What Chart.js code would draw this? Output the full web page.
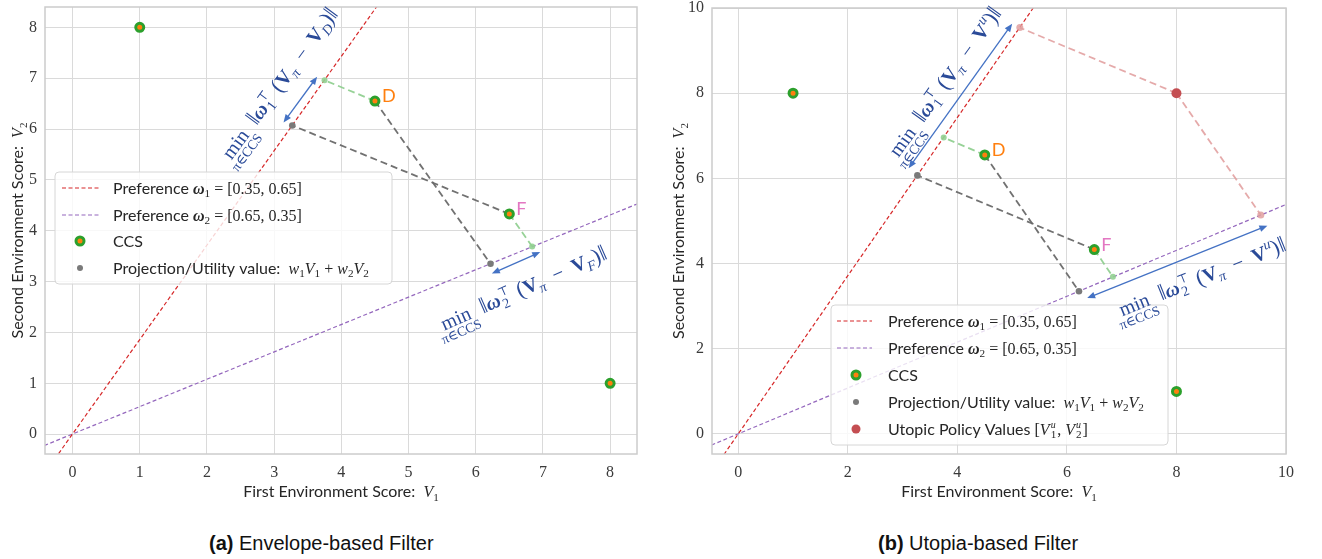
<!DOCTYPE html>
<html>
<head>
<meta charset="utf-8">
<script src="https://cdn.jsdelivr.net/npm/chart.js@4.4.1/dist/chart.umd.min.js"></script>
<style>
body{margin:0;background:#fff;width:1322px;height:559px;overflow:hidden;position:relative}
.panel{position:absolute;top:0;width:661px;height:510px}
.cap{position:absolute;top:531px;font-family:"Liberation Sans",Arial,sans-serif;font-size:20px;line-height:24px;color:#111}
</style>
</head>
<body>
<div class="panel" style="left:0"><canvas id="envelope" width="661" height="510"></canvas></div>
<div class="panel" style="left:661px"><canvas id="utopia" width="661" height="510"></canvas></div>
<div class="cap" style="left:209px"><b>(a)</b> Envelope-based Filter</div>
<div class="cap" style="left:878px"><b>(b)</b> Utopia-based Filter</div>
<script>
const SERIF='"Liberation Serif","DejaVu Serif",serif';
const SANS='Lato,"Open Sans",sans-serif';
const ARROW='#4472c4', NOTE='#2a4a98', INK='#262626';

// axes
const envXTicks=[0,1,2,3,4,5,6,7,8];
const envYTicks=[0,1,2,3,4,5,6,7,8];
const envXRange=[-0.41,8.4], envYRange=[-0.39,8.4];
const utoXTicks=[0,2,4,6,8,10];
const utoYTicks=[0,2,4,6,8,10];
const utoXRange=[-0.48,10], utoYRange=[-0.47,10];

// CCS points (V1, V2)
const ccsV1=[1,4.5,6.5,8];
const ccsV2=[8,6.55,4.33,1];
const ccsNames=['','D','F',''];
const ccsNameColors=['','#ff7f0e','#e377c2',''];

// preference lines w1=[0.35,0.65], w2=[0.65,0.35] through the origin
const pref1V1=[-0.6,5.6], pref1V2=[-1.11,10.4];
const pref2V1=[-0.6,10.6], pref2V2=[-0.32,5.71];

// projection / utility values (gray): F on w1, D on w2
const utilV1=[3.27,6.22], utilV2=[6.07,3.35];
// other projections (light green): D on w1, F on w2
const projV1=[3.75,6.84], projV2=[6.96,3.69];
// links [ccs index, projection index]
const grayLinks=[[2,0],[1,1]];
const greenLinks=[[1,0],[2,1]];

// utopic policy value and its projections
const utopV1=[8], utopV2=[8];
const utopProjV1=[5.14,9.54], utopProjV2=[9.54,5.14];

// distance arrows [x1,y1,x2,y2]
const envArrows=[[3.14,6.13,3.64,7.03],[6.24,3.16,6.96,3.58]];
const utoArrows=[[3.11,6.24,5.0,9.63],[6.37,3.19,9.66,4.89]];
// annotation centres
const envNotes=[{at:[3.08,6.90],w:1,tail:'D'},{at:[6.71,2.87],w:2,tail:'F'}];
const utoNotes=[{at:[3.77,8.27],w:1,tail:'u'},{at:[8.47,3.69],w:2,tail:'u'}];

function pts(xs,ys){return xs.map((x,i)=>({x:x,y:ys[i]}));}

function fontOf(f,k,size){
  const s=(size*(k||1)).toFixed(1);
  if(f==='sans') return s+'px '+SANS;
  if(f==='i') return 'italic '+s+'px '+SERIF;
  if(f==='b') return 'bold '+s+'px '+SERIF;
  if(f==='bi') return 'italic bold '+s+'px '+SERIF;
  return s+'px '+SERIF;
}
function runWidth(ctx,parts,size){
  let w=0;
  for(const p of parts){
    if(p.under) continue;
    if(p.sup||p.sub){
      let m=0;
      if(p.sup){ctx.font=fontOf(p.sup.f,0.62,size);m=Math.max(m,ctx.measureText(p.sup.t).width);}
      if(p.sub){ctx.font=fontOf(p.sub.f,0.7,size);m=Math.max(m,ctx.measureText(p.sub.t).width);}
      w+=m+2;continue;
    }
    ctx.font=fontOf(p.f,p.k,size);w+=ctx.measureText(p.t).width;
  }
  return w;
}
function drawRun(ctx,parts,size,x,y){
  let cx=x,prevX=x,prevW=0;
  for(const p of parts){
    if(p.under){
      ctx.font=fontOf('r',0.68,size);
      const uw=ctx.measureText(p.under).width;
      ctx.fillText(p.under,prevX+prevW/2-uw/2,y+size*0.6);
      continue;
    }
    if(p.sup||p.sub){
      let m=0;
      if(p.sup){ctx.font=fontOf(p.sup.f,0.62,size);ctx.fillText(p.sup.t,cx+1,y-size*0.42);m=Math.max(m,ctx.measureText(p.sup.t).width);}
      if(p.sub){ctx.font=fontOf(p.sub.f,0.7,size);ctx.fillText(p.sub.t,cx+1,y+size*0.22);m=Math.max(m,ctx.measureText(p.sub.t).width);}
      cx+=m+2;continue;
    }
    ctx.font=fontOf(p.f,p.k,size);
    ctx.fillText(p.t,cx,y+(p.dy||0)*size);
    prevX=cx;prevW=ctx.measureText(p.t).width;cx+=prevW;
  }
}
const sub=(t)=>({t:t,f:'r',k:0.7,dy:0.22});

function noteParts(n,tail){
  const last=tail==='u'?{t:'u',f:'i',k:0.7,dy:-0.42}:{t:tail,f:'i',k:0.7,dy:0.22};
  return [{t:'min',f:'r'},{under:'π∈CCS'},{t:'  ‖',f:'r',k:1.15},{t:'ω',f:'bi'},
    {sup:{t:'⊤',f:'r'},sub:{t:String(n),f:'r'}},{t:' (',f:'r',k:1.1},{t:'V',f:'b'},
    {t:'π',f:'i',k:0.7,dy:0.22},{t:'  −  ',f:'r'},{t:'V',f:'b'},last,{t:')',f:'r',k:1.1},{t:'‖',f:'r',k:1.15}];
}
function prefLabel(n,vals){return [{t:'Preference ',f:'sans'},{t:'ω',f:'bi'},sub(String(n)),{t:' = ['+vals+']',f:'r'}];}
const utilLabel=[{t:'Projection/Utility value:  ',f:'sans'},{t:'w',f:'i'},sub('1'),{t:'V',f:'i'},sub('1'),
  {t:' + ',f:'r'},{t:'w',f:'i'},sub('2'),{t:'V',f:'i'},sub('2')];
const utopLabel=[{t:'Utopic Policy Values ',f:'sans'},{t:'[',f:'r'},{t:'V',f:'i'},{sup:{t:'u',f:'i'},sub:{t:'1',f:'r'}},
  {t:', ',f:'r'},{t:'V',f:'i'},{sup:{t:'u',f:'i'},sub:{t:'2',f:'r'}},{t:']',f:'r'}];

const baseLegend=[
  {kind:'line',color:'#d62728',parts:prefLabel(1,'0.35, 0.65')},
  {kind:'line',color:'#9467bd',parts:prefLabel(2,'0.65, 0.35')},
  {kind:'ccs',parts:[{t:'CCS',f:'sans'}]},
  {kind:'dot',color:'#7a7a7a',r:3,parts:utilLabel}
];

function arrowHead(ctx,x,y,ang){
  const L=8,W=3.3;
  ctx.beginPath();ctx.moveTo(x,y);
  ctx.lineTo(x-L*Math.cos(ang)+W*Math.sin(ang),y-L*Math.sin(ang)-W*Math.cos(ang));
  ctx.lineTo(x-L*Math.cos(ang)-W*Math.sin(ang),y-L*Math.sin(ang)+W*Math.cos(ang));
  ctx.closePath();ctx.fill();
}
function arrow(ctx,x1,y1,x2,y2){
  const ang=Math.atan2(y2-y1,x2-x1);
  ctx.strokeStyle=ARROW;ctx.fillStyle=ARROW;ctx.lineWidth=1.3;ctx.setLineDash([]);
  ctx.beginPath();ctx.moveTo(x1+6*Math.cos(ang),y1+6*Math.sin(ang));
  ctx.lineTo(x2-6*Math.cos(ang),y2-6*Math.sin(ang));ctx.stroke();
  arrowHead(ctx,x2,y2,ang);arrowHead(ctx,x1,y1,ang+Math.PI);
}
function ccsMarker(ctx,x,y){
  ctx.beginPath();ctx.arc(x,y,4,0,Math.PI*2);
  ctx.fillStyle='#ff7f0e';ctx.fill();ctx.lineWidth=3;ctx.strokeStyle='#2ca02c';ctx.stroke();
}
function drawLegend(ctx,lg){
  const [bx,by,bw,bh]=lg.box;
  ctx.setLineDash([]);
  ctx.beginPath();ctx.roundRect(bx,by,bw,bh,4);
  ctx.fillStyle='rgba(255,255,255,0.8)';ctx.fill();
  ctx.lineWidth=1;ctx.strokeStyle='#d6d6d6';ctx.stroke();
  lg.items.forEach((it,i)=>{
    const y=lg.rows[i];
    if(it.kind==='line'){
      ctx.strokeStyle=it.color;ctx.lineWidth=1.2;ctx.setLineDash([4,2.5]);
      ctx.beginPath();ctx.moveTo(lg.sampleX[0],y);ctx.lineTo(lg.sampleX[1],y);ctx.stroke();ctx.setLineDash([]);
    }else if(it.kind==='ccs'){ccsMarker(ctx,lg.markX,y);}
    else{ctx.beginPath();ctx.arc(lg.markX,y,it.r,0,Math.PI*2);ctx.fillStyle=it.color;ctx.fill();}
    ctx.fillStyle=INK;ctx.textBaseline='alphabetic';
    drawRun(ctx,it.parts,16,lg.textX,y+5.5);
  });
}

function makeOverlay(spec){
  return {
    id:'overlay',
    afterDraw(chart){
      const ctx=chart.ctx,a=chart.chartArea,sx=chart.scales.x,sy=chart.scales.y;
      const px=v=>sx.getPixelForValue(v),py=v=>sy.getPixelForValue(v);
      ctx.save();
      ctx.setLineDash([]);
      ctx.strokeStyle='#cccccc';ctx.lineWidth=1.5;
      ctx.strokeRect(a.left,a.top,a.right-a.left,a.bottom-a.top);
      spec.arrows.forEach(ar=>arrow(ctx,px(ar[0]),py(ar[1]),px(ar[2]),py(ar[3])));
      // point names
      ctx.textBaseline='alphabetic';
      ccsNames.forEach((nm,i)=>{
        if(!nm) return;
        ctx.font='18px '+SANS;ctx.fillStyle=ccsNameColors[i];
        ctx.fillText(nm,px(ccsV1[i])+7,py(ccsV2[i])+1);
      });
      drawLegend(ctx,spec.legend);
      // notes along the arrows
      spec.notes.forEach((n,i)=>{
        const ar=spec.arrows[i];
        const ang=Math.atan2(py(ar[3])-py(ar[1]),px(ar[2])-px(ar[0]));
        const parts=noteParts(n.w,n.tail);
        ctx.save();ctx.translate(px(n.at[0]),py(n.at[1]));ctx.rotate(ang);
        ctx.fillStyle=NOTE;
        const w=runWidth(ctx,parts,20);
        drawRun(ctx,parts,20,-w/2,7);
        ctx.restore();
      });
      // axis titles
      ctx.fillStyle=INK;
      const xt=[{t:'First Environment Score:  ',f:'sans'},{t:'V',f:'i'},sub('1')];
      const yt=[{t:'Second Environment Score:  ',f:'sans'},{t:'V',f:'i'},sub('2')];
      let w=runWidth(ctx,xt,16);
      drawRun(ctx,xt,16,(a.left+a.right)/2-w/2,a.bottom+43);
      ctx.save();ctx.translate(a.left-spec.yTitleGap,(a.top+a.bottom)/2);ctx.rotate(-Math.PI/2);
      w=runWidth(ctx,yt,16);drawRun(ctx,yt,16,-w/2,0);
      ctx.restore();
      ctx.restore();
    }
  };
}

function lineDs(data,color){return {data:data,showLine:true,borderColor:color,borderWidth:1.2,borderDash:[4,2.5],pointRadius:0,order:10};}
function linkDs(data,color){return {data:data,showLine:true,borderColor:color,borderWidth:1.8,borderDash:[7,4],pointRadius:0,order:5};}
function dotDs(data,color,r){return {data:data,showLine:false,pointRadius:r,pointBackgroundColor:color,pointBorderWidth:0,order:2};}

function buildDatasets(withUtopia){
  const ccs=pts(ccsV1,ccsV2),util=pts(utilV1,utilV2),proj=pts(projV1,projV2);
  const ds=[lineDs(pts(pref1V1,pref1V2),'#d62728'),lineDs(pts(pref2V1,pref2V2),'#9467bd')];
  grayLinks.forEach(([c,u])=>ds.push(linkDs([ccs[c],util[u]],'rgba(105,105,105,0.95)')));
  greenLinks.forEach(([c,p])=>ds.push(linkDs([ccs[c],proj[p]],'rgba(140,205,140,0.9)')));
  if(withUtopia){
    const ut=pts(utopV1,utopV2),uq=pts(utopProjV1,utopProjV2);
    uq.forEach(q=>ds.push(linkDs([ut[0],q],'rgba(225,155,155,0.85)')));
    ds.push(dotDs(uq,'rgba(225,160,160,0.85)',3.5));
    ds.push(dotDs(ut,'#c44e52',5));
  }
  ds.push(dotDs(proj,'rgba(145,208,145,0.9)',3));
  ds.push(dotDs(util,'#7a7a7a',3.3));
  ds.push({data:ccs,showLine:false,pointRadius:4,pointBorderWidth:3,pointBackgroundColor:'#ff7f0e',pointBorderColor:'#2ca02c',order:0});
  return ds;
}

function axis(range,ticks,fit,pad){
  return {
    type:'linear',min:range[0],max:range[1],
    afterBuildTicks:s=>{s.ticks=ticks.map(v=>({value:v}));},
    afterFit:s=>{fit(s);s.paddingTop=0;s.paddingBottom=0;s.paddingLeft=0;s.paddingRight=0;},
    ticks:{padding:pad,color:'#3a3a3a',font:{family:SERIF,size:16}},
    grid:{color:'#dadada',lineWidth:1,drawTicks:false},
    border:{display:false}
  };
}

function makeChart(id,o){
  new Chart(document.getElementById(id),{
    type:'scatter',
    data:{datasets:buildDatasets(o.utopia)},
    options:{
      responsive:false,animation:false,events:[],devicePixelRatio:1,
      layout:{padding:o.padding},
      plugins:{legend:{display:false},tooltip:{enabled:false}},
      scales:{
        x:axis(o.xr,o.xt,s=>{s.height=56;},9),
        y:axis(o.yr,o.yt,s=>{s.width=o.yw;},8)
      }
    },
    plugins:[makeOverlay(o)]
  });
}

makeChart('envelope',{
  utopia:false,xr:envXRange,yr:envYRange,xt:envXTicks,yt:envYTicks,yw:45,
  padding:{top:3,right:24,left:0,bottom:0},
  arrows:envArrows,notes:envNotes,yTitleGap:22,
  legend:{box:[55,172,337,112],rows:[188,215,241,268],sampleX:[62,99],markX:80,textX:113,items:baseLegend}
});
makeChart('utopia',{
  utopia:true,xr:utoXRange,yr:utoYRange,xt:utoXTicks,yt:utoYTicks,yw:51,
  padding:{top:8,right:36,left:0,bottom:0},
  arrows:utoArrows,notes:utoNotes,yTitleGap:28,
  legend:{box:[170,305,337,140],rows:[321,348,375,402,429],sampleX:[176,211],markX:195,textX:227,
    items:baseLegend.concat([{kind:'dot',color:'#c44e52',r:4.5,parts:utopLabel}])}
});
</script>
</body>
</html>
